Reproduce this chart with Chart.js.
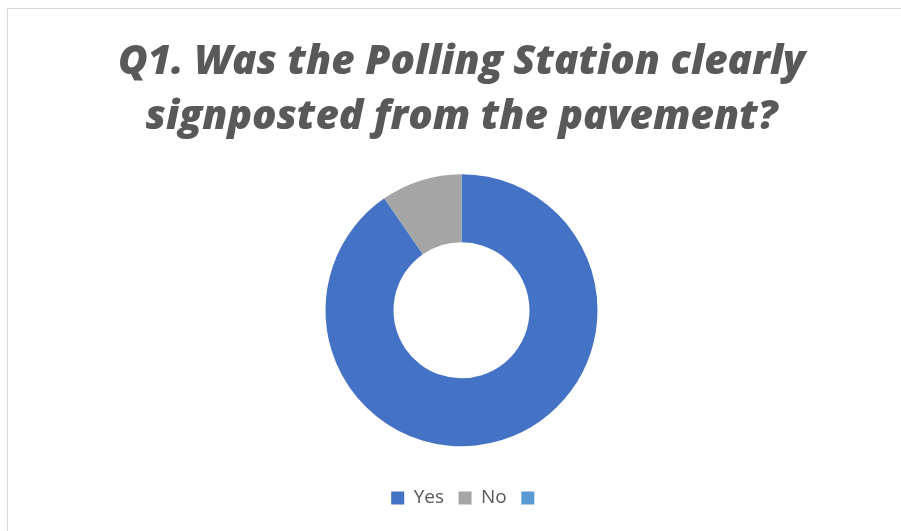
<!DOCTYPE html>
<html>
<head>
<meta charset="utf-8">
<script src="https://cdn.jsdelivr.net/npm/chart.js@4/dist/chart.umd.min.js"></script>
<style>
    html, body { margin: 0; padding: 0; background: #fff; overflow: hidden; }
    #frame {
        position: absolute;
        left: 7px;
        top: 8px;
        width: 907px;
        height: 540px;
        border: 1px solid #d9d9d9;
    }
</style>
</head>
<body>
<div id="frame"><canvas id="chart_q1"></canvas></div>
<script>
const TITLE_LINES = ['Q1. Was the Polling Station clearly', 'signposted from the pavement?'];
const CATEGORIES = ['Yes', 'No', ''];
const RESPONSES = [47, 5, 0];
const SLICE_COLORS = ['#4472c4', '#a5a5a5', '#5b9bd5'];

const TEXT_COLOR = '#595959';

// the empty last label still reserves text room, so the legend sits a bit left; nudge it back
const legendNudge = {
    id: 'legendNudge',
    afterLayout(chart) {
        chart.legend.left += 6;
        chart.legend.right += 6;
    }
};

const ctx = document.getElementById('chart_q1');
new Chart(ctx, {
    type: 'doughnut',
    data: {
        labels: CATEGORIES,
        datasets: [{
            data: RESPONSES,
            backgroundColor: SLICE_COLORS,
            borderWidth: 0,
            radius: 136,
            cutout: '50%'
        }]
    },
    options: {
        responsive: true,
        maintainAspectRatio: false,
        animation: false,
        layout: { padding: { bottom: 31.5 } },
        plugins: {
            title: {
                display: true,
                text: TITLE_LINES,
                color: TEXT_COLOR,
                font: { family: '"Open Sans", sans-serif', size: 40.5, weight: 800, style: 'italic', lineHeight: 55 / 40.5 },
                padding: { top: 25.5, bottom: 2 }
            },
            legend: {
                position: 'bottom',
                labels: {
                    color: TEXT_COLOR,
                    font: { family: '"Open Sans", sans-serif', size: 19 },
                    boxWidth: 13,
                    boxHeight: 13,
                    padding: 14.5
                }
            },
            tooltip: { enabled: false }
        }
    },
    plugins: [legendNudge]
});
</script>
</body>
</html>
